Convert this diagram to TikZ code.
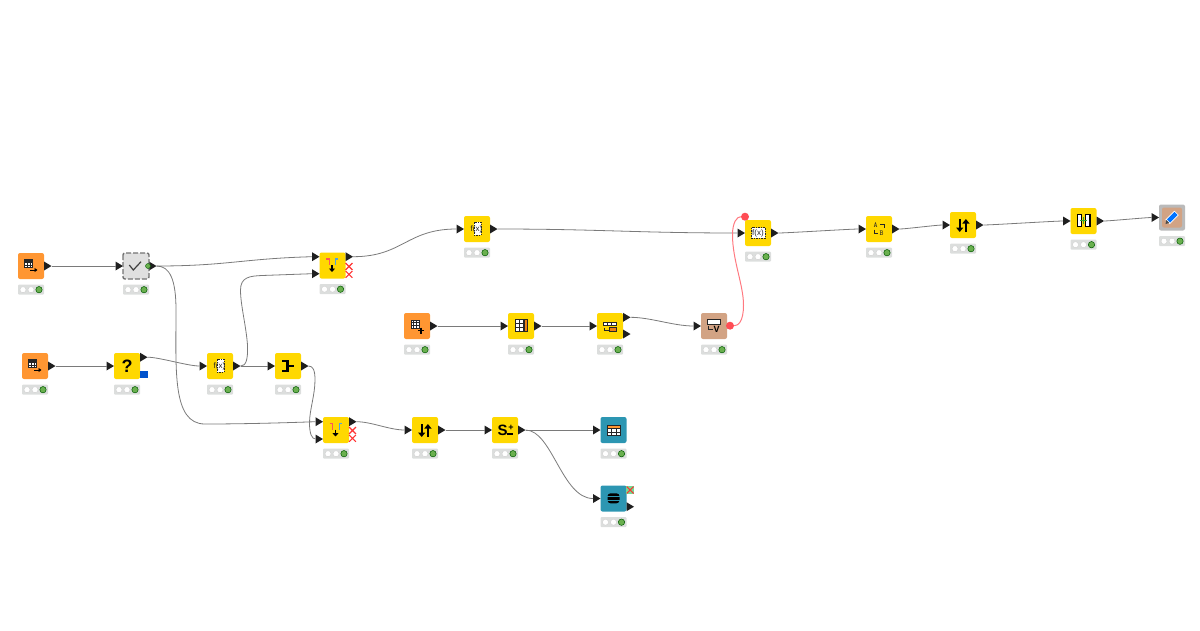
\documentclass[tikz,border=0pt]{standalone}
\usepackage{fontspec}
\setsansfont{Liberation Sans}
\usetikzlibrary{shapes.geometric}
\usetikzlibrary{arrows.meta}
\definecolor{readorange}{HTML}{FF9632}
\definecolor{mangold}{HTML}{FFD800}
\definecolor{viewteal}{HTML}{2C96B2}
\definecolor{varbrown}{HTML}{D2A384}
\definecolor{barfog}{HTML}{DCDEDD}
\definecolor{lampgreen}{HTML}{6AB04F}
\definecolor{flowred}{HTML}{FF4D55}
\tikzset{
  kbox/.style={draw=none,rectangle,rounded corners=2pt,minimum size=26pt,inner sep=0pt,outer sep=0pt},
  statbar/.style={rectangle,rounded corners=1pt,fill=barfog,minimum width=26pt,minimum height=10pt,inner sep=0pt},
  lamp/.style={circle,fill=white,draw=black!20,line width=0.3pt,minimum size=6pt,inner sep=0pt},
  lampon/.style={circle,fill=lampgreen,draw=green!35!black,line width=0.5pt,minimum size=6.4pt,inner sep=0pt},
  portbase/.style={isosceles triangle,isosceles triangle stretches,shape border rotate=0,minimum height=7.5pt,minimum width=9pt,inner sep=0pt,outer sep=0pt,fill=black!88},
  outport/.style={portbase,anchor=west},
  inport/.style={portbase,anchor=east},
  wire/.style={draw=black!52,line width=0.8pt},
  flowwire/.style={draw=flowred!75,line width=1pt},
  flowdot/.style={circle,fill=flowred,minimum size=8pt,inner sep=0pt},
  glyph/.style={draw=black!85,line width=0.7pt},
  boldglyph/.style={draw=black,line width=1.7pt},
  bigarrow/.style={-{Triangle[length=4.5pt,width=7pt]}},
  gtext/.style={font=\sffamily\fontsize{8}{8}\selectfont,inner sep=0pt,text=black!85},
  bigtext/.style={font=\sffamily\bfseries\fontsize{#1}{#1}\selectfont,inner sep=0pt,text=black},
  redcross/.style={draw=red!80,line width=1.1pt},
}
\newcommand{\knode}[4]{%
  \node[kbox,fill=#4] (#1) at (#2,#3) {};
  \node[statbar] (#1-bar) at (#2,#3+23.7) {};
  \node[lamp] (#1-la) at (#2-8,#3+23.7) {};
  \node[lamp] (#1-lb) at (#2,#3+23.7) {};
  \node[lampon] (#1-lc) at (#2+8,#3+23.7) {};
}
\newcommand{\outp}[3][0]{\path (#2.east) ++(0,#1) node[outport] (#2-#3) {};}
\newcommand{\inp}[3][0]{\path (#2.west) ++(0,#1) node[inport] (#2-#3) {};}
\newcommand{\gridglyph}[4]{%
  \draw[glyph,fill=white] (#1,#2) rectangle ++(#3,#4);
  \draw[glyph,line width=0.4pt] (#1+#3/3,#2) -- ++(0,#4) (#1+2*#3/3,#2) -- ++(0,#4)
    (#1,#2+#4/3) -- ++(#3,0) (#1,#2+2*#4/3) -- ++(#3,0);
}
\newcommand{\xmark}[2]{\draw[redcross] (#1-3.4,#2-3.4) -- (#1+3.4,#2+3.4) (#1-3.4,#2+3.4) -- (#1+3.4,#2-3.4);}
\newcommand{\readglyph}[1]{\begin{scope}[shift={(#1)}]
  \gridglyph{-7}{-6.7}{8.7}{8.2}
  \draw[glyph,fill=black!85] (-7,-6.7) rectangle ++(8.7,2);
  \draw[boldglyph,line width=1pt,-{Triangle[length=3pt,width=4pt]}] (-1,4) -- (6.5,4);
\end{scope}}
\newcommand{\joinglyph}[1]{\begin{scope}[shift={(#1)}]
  \draw[draw=red!55!pink,line width=1.1pt] (-6.5,-6.5) -- (-3.2,-6.5) -- (-3.2,-0.5);
  \draw[draw=cyan!70!blue!70,line width=1.1pt] (5.5,-6.5) -- (3.2,-6.5) -- (3.2,-0.5);
  \draw[boldglyph,line width=1.3pt,-{Triangle[length=3.5pt,width=6pt]}] (-0.5,-0.5) -- (-0.5,6.5);
\end{scope}}
\newcommand{\sortglyph}[1]{\begin{scope}[shift={(#1)}]
  \draw[boldglyph,bigarrow] (-3.3,-6) -- (-3.3,7);
  \draw[boldglyph,bigarrow] (2.9,7) -- (2.9,-6);
\end{scope}}
\newcommand{\mathglyph}[1]{\begin{scope}[shift={(#1)}]
  \draw[glyph,fill=white,dash pattern=on 1.5pt off 1pt] (-3,-6.7) rectangle (4,6.3);
  \node[gtext] (#1-fx) at (-0.5,0) {f(x)};
\end{scope}}
\begin{document}
\begin{tikzpicture}[x=1pt,y=-1pt]
\useasboundingbox (0,0) rectangle (1200,630);

\knode{read1}{31}{266}{readorange}
\knode{check}{136}{266}{black!12}
\knode{join1}{332.5}{265.5}{mangold}
\knode{read2}{35}{366}{readorange}
\knode{ifswitch}{127}{366}{mangold}
\knode{calc1}{220}{366}{mangold}
\knode{merge}{288}{366}{mangold}
\knode{join2}{336}{430}{mangold}
\knode{sort1}{425}{430}{mangold}
\knode{group}{505}{430}{mangold}
\knode{tabview}{613.5}{430}{viewteal}
\knode{colview}{613.5}{498.5}{viewteal}
\knode{read3}{417}{326}{readorange}
\knode{tabedit}{521}{326}{mangold}
\knode{rule}{610}{326}{mangold}
\knode{varedit}{714}{326}{varbrown}
\knode{calc2}{477}{229}{mangold}
\knode{calc3}{758}{233}{mangold}
\knode{rename}{879}{229}{mangold}
\knode{sort2}{963}{225}{mangold}
\knode{combine}{1083.5}{221}{mangold}
\knode{write}{1172}{217.5}{black!27}
\node[kbox,minimum size=20pt,fill=varbrown] (write-pane) at (write) {};

\outp{read1}{out}
\inp{check}{in}
\outp{check}{out}
\inp[-8.8]{join1}{ina}
\inp[8.2]{join1}{inb}
\outp[-8.8]{join1}{out}
\outp{read2}{out}
\inp{ifswitch}{in}
\outp[-8.8]{ifswitch}{out}
\inp{calc1}{in}
\outp{calc1}{out}
\inp{merge}{in}
\outp{merge}{out}
\inp[-8.3]{join2}{ina}
\inp[9]{join2}{inb}
\outp[-8.3]{join2}{out}
\inp{sort1}{in}
\outp{sort1}{out}
\inp{group}{in}
\outp{group}{out}
\inp{tabview}{in}
\inp{colview}{in}
\outp[8.2]{colview}{out}
\outp{read3}{out}
\inp{tabedit}{in}
\outp{tabedit}{out}
\inp{rule}{in}
\outp[-8.7]{rule}{outa}
\outp[8]{rule}{outb}
\inp{varedit}{in}
\inp{calc2}{in}
\outp{calc2}{out}
\inp{calc3}{in}
\outp{calc3}{out}
\inp{rename}{in}
\outp{rename}{out}
\inp{sort2}{in}
\outp{sort2}{out}
\inp{combine}{in}
\outp{combine}{out}
\inp{write}{in}
\node[flowdot] (varedit-flow) at (730,325.7) {};
\node[flowdot] (calc3-flow) at (745,216.7) {};

\draw[wire] (read1-out.east) -- (check-in.west);
\draw[wire] (check-out.east) .. controls +(70,0) and +(-70,2) .. (join1-ina.west);
\draw[wire] (check-out.east) .. controls (170,266) and (176,280) .. (176,310)
  .. controls (176,370) and (172,424) .. (205,424)
  .. controls (240,424) and (280,423) .. (join2-ina.west);
\draw[wire] (read2-out.east) -- (ifswitch-in.west);
\draw[wire] (ifswitch-out.east) .. controls +(12,0) and +(-12,0) .. (calc1-in.west);
\draw[wire] (calc1-out.east) -- (merge-in.west);
\draw[wire] (calc1-out.east) .. controls (246,366) and (248,360) .. (247.5,345)
  .. controls (246,325) and (240.5,305) .. (240.5,290)
  .. controls (240.5,277) and (250,276) .. (262,275.5)
  -- (join1-inb.west);
\draw[wire] (merge-out.east) .. controls (313,366) and (315,370) .. (315,380)
  .. controls (315,395) and (309.5,410) .. (309.5,423)
  .. controls (309.5,434) and (312,439) .. (join2-inb.west);
\draw[wire] (join2-out.east) .. controls +(15,0) and +(-15,0) .. (sort1-in.west);
\draw[wire] (sort1-out.east) -- (group-in.west);
\draw[wire] (group-out.east) -- (tabview-in.west);
\draw[wire] (group-out.east) .. controls (552,430) and (562,498.5) .. (colview-in.west);
\draw[wire] (join1-out.east) .. controls +(50,0) and +(-50,0) .. (calc2-in.west);
\draw[wire] (calc2-out.east) .. controls +(100,0) and +(-100,0) .. (calc3-in.west);
\draw[wire] (calc3-out.east) .. controls +(8,0) and +(-8,0) .. (rename-in.west);
\draw[wire] (rename-out.east) .. controls +(6,0) and +(-6,0) .. (sort2-in.west);
\draw[wire] (sort2-out.east) .. controls +(8,0) and +(-8,0) .. (combine-in.west);
\draw[wire] (combine-out.east) .. controls +(5,0) and +(-5,0) .. (write-in.west);
\draw[wire] (read3-out.east) -- (tabedit-in.west);
\draw[wire] (tabedit-out.east) -- (rule-in.west);
\draw[wire] (rule-outa.east) .. controls +(20,0) and +(-20,0) .. (varedit-in.west);
\draw[flowwire] (varedit-flow) .. controls (738,325.7) and (743.5,322) .. (743.5,305)
  .. controls (743.5,285) and (732.5,260) .. (732.5,235)
  .. controls (732.5,222) and (737,216.7) .. (calc3-flow);

\readglyph{read1}
\readglyph{read2}
\begin{scope}[shift={(read3)}]
  \gridglyph{-6}{-6}{8}{8}
  \draw[boldglyph,line width=1.2pt] (1,4.7) -- (7,4.7) (4,1.7) -- (4,7.7);
\end{scope}

\draw[black!55,line width=1.4pt,dash pattern=on 5pt off 2pt,rounded corners=2pt] (check.north west) rectangle (check.south east);
\draw[black!75,line width=1.2pt] (129.3,265) -- (133.3,270) -- (141,261.7);
\node[circle,fill=lampgreen,draw=green!35!black,line width=0.4pt,minimum size=5pt,inner sep=0pt] (check-dot) at (148,266) {};

\joinglyph{join1}
\xmark{349}{266.5}
\xmark{349}{274.3}
\joinglyph{join2}
\xmark{352.5}{430.5}
\xmark{352.5}{438.3}

\node[bigtext=18] (ifswitch-q) at (ifswitch) {?};
\fill[blue!60!cyan!80!black] (140,371) rectangle (147.5,378);

\mathglyph{calc1}
\mathglyph{calc2}

\draw[boldglyph,line width=2.8pt] (-6+288,-5+366) -- (-0.5+288,-5+366) -- (-0.5+288,5+366) -- (-6+288,5+366) (-0.5+288,366) -- (6.3+288,366);

\sortglyph{sort1}
\sortglyph{sort2}

\node[bigtext=15] (group-s) at (502.5,430) {S};
\node[bigtext=9] (group-p) at (511,427.5) {+};
\draw[boldglyph,line width=1.1pt] (507,434) -- (512.5,434);

\gridglyph{607.3}{425}{12.7}{10.7}
\draw[glyph,fill=readorange] (607.3,425) rectangle (620,428);
\fill[black,rounded corners=3pt] (607.5,493.3) rectangle (619.5,503.3);
\draw[viewteal,line width=0.6pt] (607,496.3) -- (620,496.3) (607,500.3) -- (620,500.3);
\fill[green!50!teal!55] (626,486) rectangle (634.3,494);
\xmark{630.2}{490}

\gridglyph{515}{319.3}{12.7}{12.4}
\draw[glyph,fill=orange!70!brown] (524,319.3) rectangle (527.7,331.7);

\draw[glyph,fill=white] (603.3,322.3) rectangle (616,325.7);
\draw[glyph] (607.5,322.3) -- (607.5,325.7) (611.7,322.3) -- (611.7,325.7);
\draw[glyph] (604,327.5) -- (604,330) -- (608.5,330);
\draw[glyph,line width=0.6pt,fill=orange!70!brown] (609.3,327.5) rectangle (616,331);

\draw[glyph,fill=white,line width=1pt] (707.3,319.3) rectangle (720.7,324.3);
\draw[glyph,line width=1pt] (708.3,326) -- (708.3,329) -- (713,329);
\node[bigtext=9] (varedit-v) at (716.7,329) {V};

\draw[glyph,fill=white,dash pattern=on 1.5pt off 1pt] (751.7,227.7) rectangle (765,238.3);
\node[gtext] (calc3-fx) at (calc3) {f(x)};

\node[gtext,font=\ttfamily\fontsize{7.5}{7.5}\selectfont] (rename-a) at (875.7,225.5) {A};
\node[gtext,font=\ttfamily\fontsize{7.5}{7.5}\selectfont] (rename-b) at (881.7,233) {B};
\draw[glyph] (880,224) -- (884,224) -- (884,227.5);
\draw[glyph] (874,229.5) -- (874,233) -- (877.5,233);

\draw[black,line width=1.5pt,fill=white] (1077.3,214.3) rectangle (1081.7,226.7);
\draw[black,line width=1.5pt,fill=white] (1085.7,214.3) rectangle (1090,226.7);
\draw[black,line width=1.5pt] (1081.7,220.7) -- (1085.7,220.7);
\draw[green!55!black!80,line width=1.2pt] (1080,220.7) -- (1087,220.7) (1083.5,217.2) -- (1083.5,224.2);

\draw[white,line width=6.2pt] (1167.5,222) -- (1176.5,213);
\draw[blue!55!cyan,line width=4.5pt] (1168.5,221) -- (1176,213.5);
\fill[black!70] (1165.5,224) -- (1166.3,220) -- (1169.4,223) -- cycle;
\end{tikzpicture}
\end{document}
